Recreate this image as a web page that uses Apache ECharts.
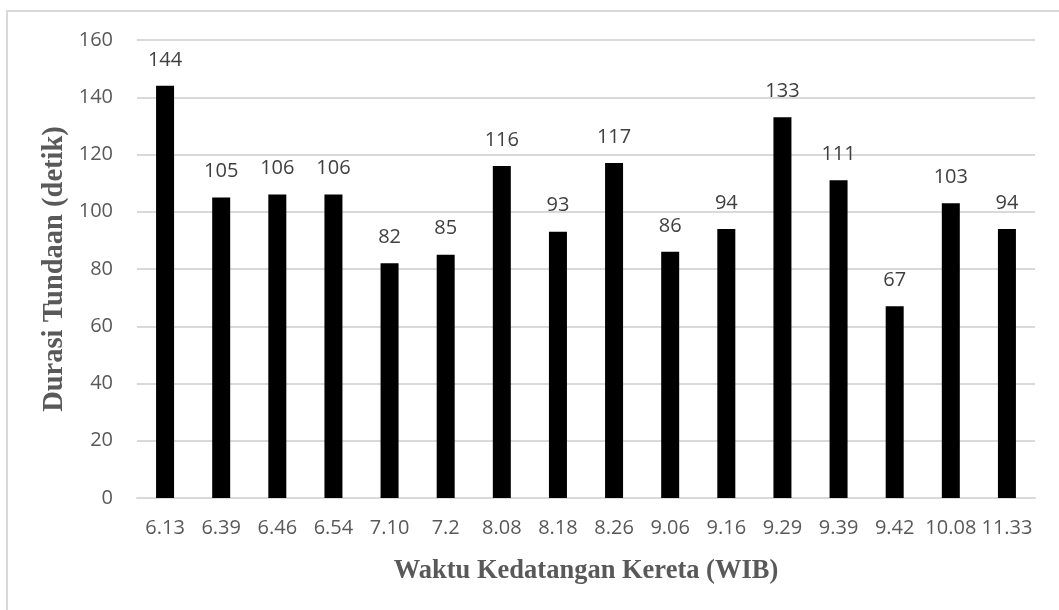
<!DOCTYPE html>
<html><head><meta charset="utf-8">
<script src="https://cdn.jsdelivr.net/npm/echarts@6/dist/echarts.min.js"></script>
<style>html,body{margin:0;padding:0;background:#fff}#c{width:1059px;height:610px}
#frame{position:absolute;left:6px;top:10px;width:1060px;height:610px;border:2px solid #d9d9d9;box-sizing:border-box;pointer-events:none}</style>
</head><body><div id="c"></div><div id="frame"></div>
<script>
const categories = ['6.13','6.39','6.46','6.54','7.10','7.2','8.08','8.18','8.26','9.06','9.16','9.29','9.39','9.42','10.08','11.33'];
const values = [144,105,106,106,82,85,116,93,117,86,94,133,111,67,103,94];
const yTicks = [0,20,40,60,80,100,120,140,160];
const xTitle = 'Waktu Kedatangan Kereta (WIB)';
const yTitle = 'Durasi Tundaan (detik)';

const chart = echarts.init(document.getElementById('c'), null, {renderer:'canvas'});
chart.setOption({
  animation:false,
  backgroundColor:'#fff',
  grid:{left:137, right:24, top:40, bottom:112},
  xAxis:{type:'category', data:categories,
    axisLine:{lineStyle:{color:'#d9d9d9', width:2}}, axisTick:{show:false},
    axisLabel:{color:'#595959', fontFamily:'Open Sans', fontSize:20, margin:20, interval:0},
    name:xTitle, nameLocation:'middle', nameGap:60, nameMoveOverlap:false,
    nameTextStyle:{color:'#595959', fontFamily:'Liberation Serif', fontWeight:'bold', fontSize:26.5}},
  yAxis:{type:'value', min:yTicks[0], max:yTicks[yTicks.length-1], interval:20,
    axisLine:{show:false}, axisTick:{show:false},
    splitLine:{lineStyle:{color:'#d9d9d9', width:2}},
    axisLabel:{color:'#595959', fontFamily:'Open Sans', fontSize:20, margin:24},
    name:yTitle, nameLocation:'middle', nameGap:68, nameMoveOverlap:false,
    nameTextStyle:{color:'#595959', fontFamily:'Liberation Serif', fontWeight:'bold', fontSize:28.5}},
  series:[{type:'bar', data:values, barWidth:18,
    itemStyle:{color:'#000'},
    label:{show:true, position:'top', distance:16, color:'#404040', fontFamily:'Open Sans', fontSize:20}}]
});
</script></body></html>
